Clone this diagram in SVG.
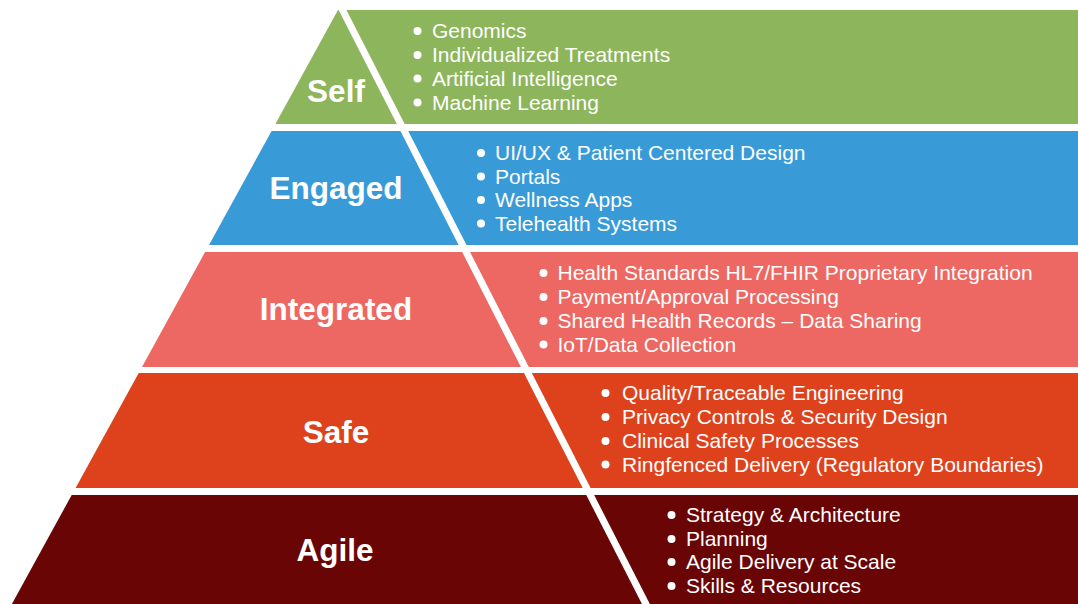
<svg xmlns="http://www.w3.org/2000/svg" width="1078" height="604" viewBox="0 0 1078 604">
  <style>
    .label { font-family: "Liberation Sans", Arial, sans-serif; font-weight: bold; font-size: 31.5px; fill: #ffffff; text-anchor: middle; }
    .item { font-family: "Liberation Sans", Arial, sans-serif; font-size: 21px; fill: #ffffff; }
    .dot { fill: #ffffff; }
    .divider { stroke: #ffffff; stroke-width: 7; fill: none; }
  </style>
  <rect width="1078" height="604" fill="#ffffff"/>

  <!-- Tier 1 (top) -->
  <g id="self">
    <polygon points="338,10 1078,10 1078,124 275.4,124" fill="#8DB55C"/>
    <text class="label" x="336" y="102">Self</text>
    <g>
      <circle class="dot" cx="417.5" cy="31" r="4"/>
      <circle class="dot" cx="417.5" cy="55" r="4"/>
      <circle class="dot" cx="417.5" cy="78.5" r="4"/>
      <circle class="dot" cx="417.5" cy="102.5" r="4"/>
      <text class="item" x="432" y="38">Genomics</text>
      <text class="item" x="432" y="62">Individualized Treatments</text>
      <text class="item" x="432" y="85.5">Artificial Intelligence</text>
      <text class="item" x="432" y="109.5">Machine Learning</text>
    </g>
  </g>

  <!-- Tier 2 -->
  <g id="engaged">
    <polygon points="271.6,131 1078,131 1078,245 209,245" fill="#389BD8"/>
    <text class="label" x="336" y="199">Engaged</text>
    <g>
      <circle class="dot" cx="481" cy="153" r="4"/>
      <circle class="dot" cx="481" cy="176.5" r="4"/>
      <circle class="dot" cx="481" cy="200" r="4"/>
      <circle class="dot" cx="481" cy="223.5" r="4"/>
      <text class="item" x="495" y="160">UI/UX &amp; Patient Centered Design</text>
      <text class="item" x="495" y="183.5">Portals</text>
      <text class="item" x="495" y="207">Wellness Apps</text>
      <text class="item" x="495" y="230.5">Telehealth Systems</text>
    </g>
  </g>

  <!-- Tier 3 -->
  <g id="integrated">
    <polygon points="205.1,252 1078,252 1078,367 142,367" fill="#ED6862"/>
    <text class="label" x="336" y="320">Integrated</text>
    <g>
      <circle class="dot" cx="543.5" cy="273" r="4"/>
      <circle class="dot" cx="543.5" cy="297" r="4"/>
      <circle class="dot" cx="543.5" cy="321" r="4"/>
      <circle class="dot" cx="543.5" cy="344.5" r="4"/>
      <text class="item" x="557.5" y="280">Health Standards HL7/FHIR Proprietary Integration</text>
      <text class="item" x="557.5" y="304">Payment/Approval Processing</text>
      <text class="item" x="557.5" y="328">Shared Health Records – Data Sharing</text>
      <text class="item" x="557.5" y="351.5">IoT/Data Collection</text>
    </g>
  </g>

  <!-- Tier 4 -->
  <g id="safe">
    <polygon points="138.7,373 1078,373 1078,488 75.6,488" fill="#DE421D"/>
    <text class="label" x="336" y="443">Safe</text>
    <g>
      <circle class="dot" cx="605.5" cy="393" r="4"/>
      <circle class="dot" cx="605.5" cy="417" r="4"/>
      <circle class="dot" cx="605.5" cy="441" r="4"/>
      <circle class="dot" cx="605.5" cy="464.5" r="4"/>
      <text class="item" x="622" y="400">Quality/Traceable Engineering</text>
      <text class="item" x="622" y="424">Privacy Controls &amp; Security Design</text>
      <text class="item" x="622" y="448">Clinical Safety Processes</text>
      <text class="item" x="622" y="471.5">Ringfenced Delivery (Regulatory Boundaries)</text>
    </g>
  </g>

  <!-- Tier 5 (base) -->
  <g id="agile">
    <polygon points="71.7,495 1078,495 1078,604 11.9,604" fill="#690505"/>
    <text class="label" x="335" y="561">Agile</text>
    <g>
      <circle class="dot" cx="671.5" cy="515" r="4"/>
      <circle class="dot" cx="671.5" cy="539" r="4"/>
      <circle class="dot" cx="671.5" cy="562" r="4"/>
      <circle class="dot" cx="671.5" cy="586" r="4"/>
      <text class="item" x="686" y="522">Strategy &amp; Architecture</text>
      <text class="item" x="686" y="546">Planning</text>
      <text class="item" x="686" y="569">Agile Delivery at Scale</text>
      <text class="item" x="686" y="593">Skills &amp; Resources</text>
    </g>
  </g>

  <!-- diagonal split between the pyramid and the detail panels -->
  <g id="connectors">
    <line class="divider" x1="337.4" y1="0" x2="651" y2="614"/>
  </g>
</svg>
